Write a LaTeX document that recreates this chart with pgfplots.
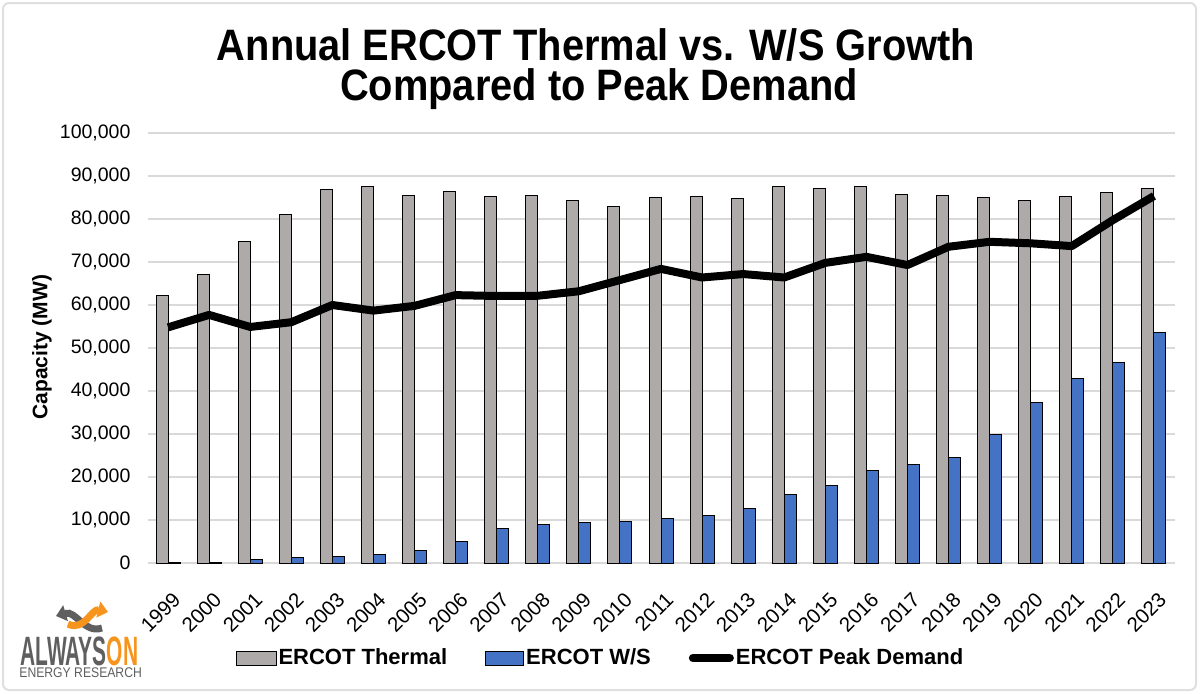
\documentclass[border=0pt]{standalone}
\usepackage{pgfplots}
\pgfplotsset{compat=1.18}
\usepackage{pgfplotstable}
\usetikzlibrary{arrows.meta}
\usepackage{fontspec}
\setmainfont{Liberation Sans}
\definecolor{thermal}{RGB}{174,170,170}
\definecolor{ws}{RGB}{68,114,196}
\definecolor{gridc}{RGB}{217,217,217}
\definecolor{logogray}{RGB}{95,95,95}
\definecolor{logoorange}{RGB}{247,148,29}
\pgfplotstableread{
idx year thermal ws peak
0 1999 62200 150 54800
1 2000 67200 150 57700
2 2001 74800 860 54900
3 2002 81000 1230 56000
4 2003 86800 1470 60000
5 2004 87450 2000 58700
6 2005 85500 3000 59800
7 2006 86500 4950 62300
8 2007 85300 8050 62100
9 2008 85450 9000 62150
10 2009 84200 9450 63200
11 2010 82950 9700 65800
12 2011 84950 10450 68400
13 2012 85200 11150 66400
14 2013 84800 12700 67200
15 2014 87500 16050 66400
16 2015 87000 18000 69800
17 2016 87600 21450 71200
18 2017 85750 22950 69300
19 2018 85450 24600 73550
20 2019 85050 29950 74700
21 2020 84400 37300 74350
22 2021 85350 42950 73700
23 2022 86100 46600 79750
24 2023 87150 53500 85350
}\datatable
\begin{document}
\begin{tikzpicture}
\path[use as bounding box] (0pt,0pt) rectangle (600pt,-346.5pt);
\draw[gray!25, line width=1pt, rounded corners=3pt] (1.5pt,-1.5pt) rectangle (598pt,-345pt);
% title
\node[anchor=base] at (298pt,-30pt) {\scalebox{0.905}[1]{\bfseries\fontsize{22}{26}\selectfont Annual ERCOT Thermal vs. W/S Growth}};
\node[anchor=base] at (299.5pt,-50pt) {\scalebox{0.905}[1]{\bfseries\fontsize{22}{26}\selectfont Compared to Peak Demand}};
% y label
\node[rotate=90] at (21pt,-173.5pt) {\bfseries\fontsize{10.5}{12}\selectfont Capacity (MW)};
\begin{axis}[
  at={(73.75pt,-281.5pt)}, anchor=south west,
  width=513.5pt, height=215pt, scale only axis,
  xmin=-0.5, xmax=24.5, ymin=0, ymax=100000,
  ytick={0,10000,...,100000},
  xtick={0,...,24},
  xticklabels={1999,2000,2001,2002,2003,2004,2005,2006,2007,2008,2009,2010,2011,2012,2013,2014,2015,2016,2017,2018,2019,2020,2021,2022,2023},
  axis line style={draw=none},
  major tick length=0pt,
  ymajorgrids, grid style={gridc, line width=0.75pt},
  scaled y ticks=false,
  yticklabel style={/pgf/number format/fixed, /pgf/number format/1000 sep={,}, /pgf/number format/assume math mode=true, font=\fontsize{9.75}{11}\selectfont, xshift=-5pt},
  xticklabel style={font=\fontsize{10.25}{11}\selectfont, xshift=6.8pt, yshift=-14pt, rotate=45, anchor=east},
  legend style={at={(0.441,-0.221)}, anchor=center, draw=none, fill=none,
     legend columns=-1, font=\bfseries\fontsize{11}{13}\selectfont,
     /tikz/every even column/.append style={column sep=18pt},
     nodes={inner sep=1pt}},
]
\addplot[ybar, bar width=6pt, bar shift=-3pt, fill=thermal, draw=black, line width=0.5pt,
  legend image code/.code={\draw[fill=thermal, draw=black, line width=0.5pt] (0pt,-3.5pt) rectangle (20pt,3.5pt);}]
  table[x=idx, y=thermal] {\datatable};
\addlegendentry{ERCOT Thermal}
\addplot[ybar, bar width=6pt, bar shift=3pt, fill=ws, draw=black, line width=0.5pt,
  legend image code/.code={\draw[fill=ws, draw=black, line width=0.5pt] (0pt,-3.5pt) rectangle (19pt,3.5pt);}]
  table[x=idx, y=ws] {\datatable};
\addlegendentry{ERCOT W/S}
\addplot[black, line width=4pt, line join=round, mark=none,
  legend image code/.code={\draw[black, line width=4pt, line cap=round] (1.5pt,0pt) -- (20pt,0pt);}]
  table[x=idx, y=peak] {\datatable};
\addlegendentry{ERCOT Peak Demand}
\end{axis}
% logo
\draw[logogray, line width=3.5pt, -{Triangle[width=8pt,length=5pt]}] (51pt,-314pt) .. controls (42pt,-317pt) and (38pt,-305pt) .. (28pt,-308pt);
\draw[logoorange, line width=3.5pt, -{Triangle[width=8pt,length=5pt]}] (34pt,-312pt) .. controls (42pt,-316pt) and (46pt,-304pt) .. (54pt,-306pt);
\node[anchor=base west, inner sep=0pt] at (10pt,-332.5pt) {\scalebox{0.51}[1]{\bfseries\fontsize{20.5}{21}\selectfont\textcolor{logogray}{ALWAYS}\textcolor{logoorange}{ON}}};
\node[anchor=base west, inner sep=0pt] at (9.5pt,-338.5pt) {\scalebox{0.87}[1]{\fontsize{7}{8}\selectfont\textcolor{logogray}{ENERGY RESEARCH}}};
\end{tikzpicture}
\end{document}
